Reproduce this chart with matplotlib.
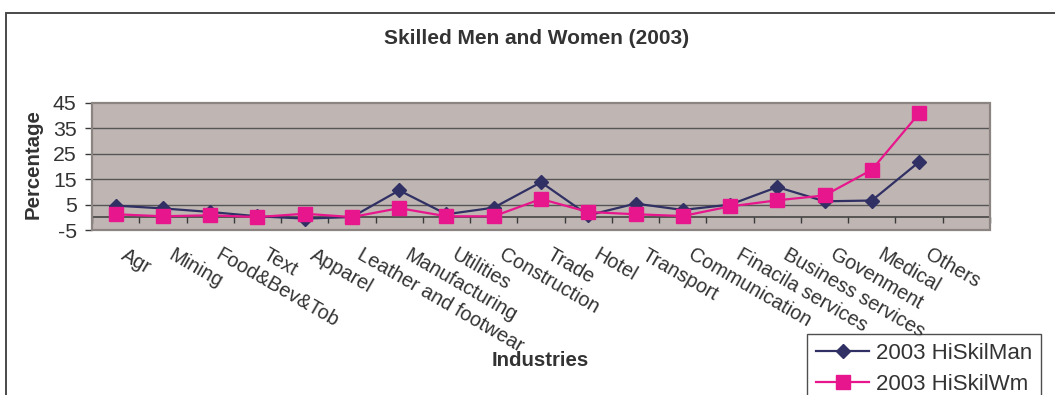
import numpy as np
import matplotlib.pyplot as plt
from matplotlib.patches import Rectangle
from matplotlib.transforms import ScaledTranslation

# --------- Data ---------
industries = ['Agr', 'Mining', 'Food&Bev&Tob', 'Text', 'Apparel',
              'Leather and footwear', 'Manufacturing', 'Utilities',
              'Construction', 'Trade', 'Hotel', 'Transport',
              'Communication', 'Finacila services', 'Business services',
              'Govenment', 'Medical', 'Others']
hi_skil_man = [4.6, 3.5, 2.1, 0.4, -0.5, 0.1, 10.6, 1.2, 3.8, 13.8,
               0.8, 5.4, 2.9, 5.0, 11.9, 6.3, 6.6, 21.8]
hi_skil_wm = [1.2, 0.4, 0.8, 0.1, 1.4, 0.1, 3.6, 0.4, 0.4, 7.2,
              2.1, 1.2, 0.5, 4.3, 6.7, 8.6, 18.7, 40.9]
y_ticks = [-5, 5, 15, 25, 35, 45]

text_color = '#333333'
plt.rcParams['font.family'] = ['Liberation Sans', 'DejaVu Sans']

# --------- Figure ---------
fig = plt.figure(figsize=(10.55, 3.95), dpi=100)
ax = fig.add_axes([92 / 1055, 1 - 230 / 395, 898 / 1055, 127 / 395])
ax.set_facecolor('#BFB6B3')

x = np.arange(len(industries))
ax.plot(x, hi_skil_man, color='#303064', lw=1.6, marker='D', ms=7,
        label='2003 HiSkilMan', zorder=3)
ax.plot(x, hi_skil_wm, color='#E8168C', lw=1.6, marker='s', ms=10.5,
        label='2003 HiSkilWm', zorder=4)

# one empty category slot after "Others"
ax.set_xlim(-0.5, len(industries) + 0.5)
ax.set_ylim(-5, 45)

# gridlines
for v in y_ticks[1:-1]:
    ax.axhline(v, color='#555555', lw=1.0, zorder=1)

# --------- Axes ---------
for side in ['top', 'left', 'right']:
    ax.spines[side].set_visible(False)
ax.spines['bottom'].set_position(('data', 0))
ax.spines['bottom'].set_color('#3a3a3a')
ax.spines['bottom'].set_linewidth(1.1)
ax.spines['bottom'].set_zorder(2)

ax.set_yticks(y_ticks)
ax.set_yticklabels([str(v) for v in y_ticks], fontsize=15.3, color=text_color)
ax.tick_params(axis='y', direction='out', length=5, width=1,
               color='#3a3a3a', pad=6)

ax.set_xticks(x)
ax.set_xticklabels(industries, rotation=-30, ha='left', va='top',
                   rotation_mode='anchor', fontsize=14.3, color=text_color)
ax.set_xticks(np.arange(-0.5, len(industries) + 1), minor=True)
ax.tick_params(axis='x', which='major', length=0, pad=20)
ax.tick_params(axis='x', which='minor', direction='out', length=4.5,
               width=1, color='#3a3a3a')
# nudge the slanted labels so they start at the category centre
shift = ScaledTranslation(12 / 100, 0, fig.dpi_scale_trans)
for lbl in ax.get_xticklabels():
    lbl.set_transform(lbl.get_transform() + shift)

# plot area border
ax.add_patch(Rectangle((0, 0), 1, 1, transform=ax.transAxes, fill=False,
                       edgecolor='#8C8480', lw=1.6, zorder=5, clip_on=False))

# --------- Titles ---------
fig.text(537 / 1055, 1 - 38 / 395, 'Skilled Men and Women (2003)',
         ha='center', va='center', fontsize=15, fontweight='bold',
         color=text_color)
fig.text(540 / 1055, 1 - 360 / 395, 'Industries', ha='center', va='center',
         fontsize=14.7, fontweight='bold', color=text_color)
fig.text(33 / 1055, 1 - 164 / 395, 'Percentage', ha='center', va='center',
         rotation=90, fontsize=14.7, fontweight='bold', color=text_color)

# --------- Legend ---------
leg = fig.legend(loc='upper left', bbox_to_anchor=(807 / 1055, 1 - 334 / 395),
                 borderaxespad=0, fontsize=16, frameon=True, fancybox=False,
                 handlelength=2.4, handletextpad=0.3, labelspacing=0.45,
                 borderpad=0.4)
leg.get_frame().set_edgecolor('#222222')
leg.get_frame().set_linewidth(1.0)
for t in leg.get_texts():
    t.set_color(text_color)

# --------- Chart border ---------
fig.add_artist(Rectangle((6 / 1055, -0.2), 1.2, 1.2 - 13 / 395,
                         transform=fig.transFigure, fill=False,
                         edgecolor='#4a4a4a', lw=1.4, clip_on=False))

plt.savefig('out.png', dpi=100)
